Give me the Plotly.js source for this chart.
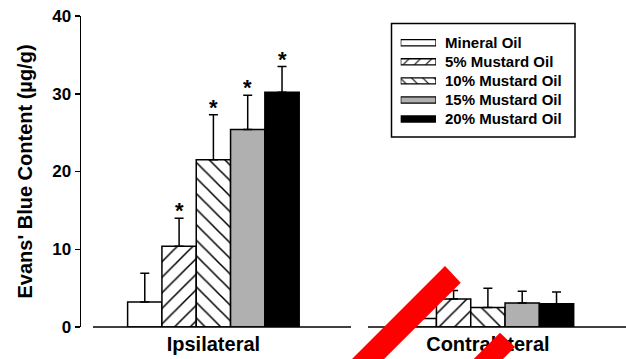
<!DOCTYPE html>
<html>
<head>
<meta charset="utf-8">
<script src="https://cdn.plot.ly/plotly-3.0.1.min.js"></script>
<style>
  html, body { margin: 0; padding: 0; background: #fff; }
  #chart { width: 626px; height: 359px; }
</style>
</head>
<body>
<div id="chart"></div>
<script>
// Evans' blue extravasation after mustard oil application
const categories = ['Ipsilateral', 'Contralateral'];
const seriesNames = ['Mineral Oil', '5% Mustard Oil', '10% Mustard Oil', '15% Mustard Oil', '20% Mustard Oil'];

// group means (µg/g)
const meanMineral = [3.2, 1.1];
const mean5 = [10.4, 3.6];
const mean10 = [21.5, 2.5];
const mean15 = [25.4, 3.1];
const mean20 = [30.2, 3.0];

// upper error bars (SEM)
const errMineral = [3.7, 1.2];
const err5 = [3.6, 1.1];
const err10 = [5.8, 2.5];
const err15 = [4.4, 1.5];
const err20 = [3.3, 1.5];

// significance markers
const starMineral = ['', ''];
const star5 = ['*', ''];
const star10 = ['*', ''];
const star15 = ['*', ''];
const star20 = ['*', ''];

const yTicks = [0, 10, 20, 30, 40];

const means = [meanMineral, mean5, mean10, mean15, mean20];
const errs = [errMineral, err5, err10, err15, err20];
const stars = [starMineral, star5, star10, star15, star20];

// fill style per series
const fills = [
  { color: '#ffffff', pattern: { shape: '' } },
  { color: '#ffffff', pattern: { shape: '/', fgcolor: '#000', bgcolor: '#fff', size: 11, solidity: 0.14 } },
  { color: '#ffffff', pattern: { shape: '\\', fgcolor: '#000', bgcolor: '#fff', size: 11, solidity: 0.14 } },
  { color: '#b0b0b0', pattern: { shape: '' } },
  { color: '#000000', pattern: { shape: '' } }
];

// plot-area geometry (px)
const M = { l: 81, r: 0, t: 16, b: 32 };
const FW = 626, FH = 359;
const PW = FW - M.l - M.r, PH = FH - M.t - M.b;
const px = v => (v - M.l) / PW;
const py = v => (FH - M.b - v) / PH;

const bargap = 0.375;
const barW = (1 - bargap) / seriesNames.length;

const traces = [];
seriesNames.forEach((name, i) => {
  traces.push({
    type: 'bar',
    name: name,
    x: categories,
    y: means[i],
    xaxis: 'x', yaxis: 'y',
    marker: {
      color: fills[i].color,
      pattern: fills[i].pattern,
      line: { color: '#000', width: 1.5 }
    },
    error_y: {
      type: 'data', symmetric: false,
      array: errs[i], arrayminus: errs[i].map(() => 0),
      color: '#000', thickness: 1.5, width: 4.5
    },
    showlegend: false,
    hoverinfo: 'skip'
  });
});

// key swatches drawn as horizontal bars on their own small axes
seriesNames.forEach((name, i) => {
  traces.push({
    type: 'bar',
    orientation: 'h',
    x: [1], y: [name],
    xaxis: 'x2', yaxis: 'y2',
    width: 0.32,
    marker: {
      color: fills[i].color,
      pattern: Object.assign({}, fills[i].pattern, fills[i].pattern.shape ? { size: 8 } : {}),
      line: { color: '#000', width: 1.3 }
    },
    showlegend: false,
    hoverinfo: 'skip'
  });
});

const boldFont = (size) => ({ family: 'Liberation Sans, Arial, sans-serif', size: size, weight: 'bold', color: '#000' });

const annotations = [];
stars.forEach((s, i) => {
  s.forEach((t, g) => {
    if (!t) return;
    annotations.push({
      x: g + (i - (seriesNames.length - 1) / 2) * barW,
      y: means[i][g] + errs[i][g],
      xref: 'x', yref: 'y',
      text: t, showarrow: false,
      yanchor: 'bottom', yshift: -7,
      font: boldFont(22)
    });
  });
});

const shapes = [
  // baseline, broken between the two groups
  { type: 'line', xref: 'paper', yref: 'paper', x0: px(93), x1: px(351), y0: 0, y1: 0, line: { color: '#000', width: 1.5 } },
  { type: 'line', xref: 'paper', yref: 'paper', x0: px(368), x1: px(626), y0: 0, y1: 0, line: { color: '#000', width: 1.5 } },
  // key frame
  { type: 'rect', xref: 'paper', yref: 'paper', x0: px(391.5), x1: px(575), y0: py(23.5), y1: py(137), line: { color: '#000', width: 1.5 }, fillcolor: 'rgba(0,0,0,0)', layer: 'below' },
  // red strike marks
  { type: 'path', xref: 'paper', yref: 'paper', layer: 'above', line: { width: 0 }, fillcolor: '#ff0000',
    path: `M${px(445)},${py(266)} L${px(460.7)},${py(282.7)} L${px(370)},${py(373)} L${px(338)},${py(373)} Z` },
  { type: 'path', xref: 'paper', yref: 'paper', layer: 'above', line: { width: 0 }, fillcolor: '#ff0000',
    path: `M${px(500)},${py(332.7)} L${px(515)},${py(347)} L${px(489)},${py(373)} L${px(459.7)},${py(373)} Z` }
];

// category centres sit at 213.4 px and 487.9 px
const groupStep = 274.5, firstCentre = 213.4;

const layout = {
  width: FW, height: FH,
  margin: M,
  paper_bgcolor: '#fff', plot_bgcolor: 'rgba(0,0,0,0)',
  barmode: 'group', bargap: bargap, bargroupgap: 0,
  showlegend: false,
  xaxis: {
    type: 'category',
    range: [(M.l - firstCentre) / groupStep, (FW - M.r - firstCentre) / groupStep],
    showline: false, ticks: '', showgrid: false, zeroline: false,
    tickfont: boldFont(20), ticklabelstandoff: 3,
    fixedrange: true
  },
  yaxis: {
    range: [0, 40],
    tickvals: yTicks,
    showline: true, linecolor: '#000', linewidth: 1.5,
    ticks: 'outside', ticklen: 5, tickwidth: 1.5, tickcolor: '#000',
    showgrid: false, zeroline: false,
    tickfont: boldFont(17), ticklabelstandoff: 0,
    title: { text: "Evans' Blue Content (µg/g)", font: boldFont(20), standoff: 14 },
    fixedrange: true
  },
  xaxis2: {
    domain: [px(400.7), px(436)], anchor: 'y2', range: [0, 1],
    visible: false, fixedrange: true
  },
  yaxis2: {
    domain: [py(128.6), py(33.2)], anchor: 'x2', side: 'right',
    type: 'category', range: [4.5, -0.5],
    showline: false, ticks: '', showgrid: false, zeroline: false,
    tickfont: boldFont(15), ticklabelstandoff: 8,
    fixedrange: true
  },
  shapes: shapes,
  annotations: annotations
};

Plotly.newPlot('chart', traces, layout, { staticPlot: true, displayModeBar: false });
</script>
</body>
</html>
